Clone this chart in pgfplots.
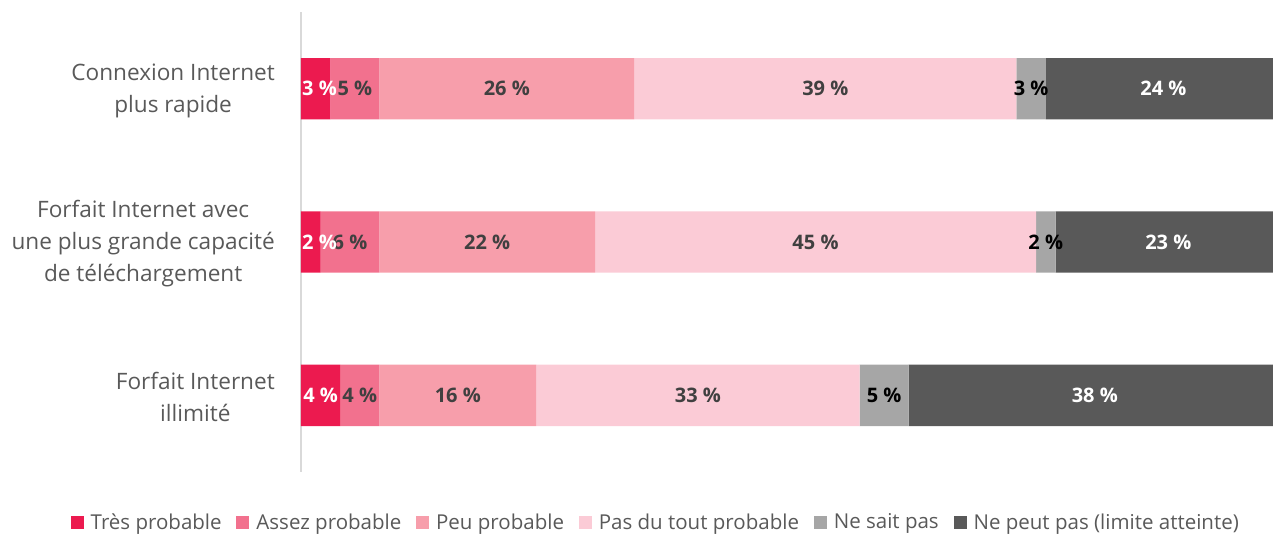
\documentclass[border=0pt]{standalone}
\usepackage{pgfplots}
\usepackage{pgfplotstable}
\pgfplotsset{compat=1.18}
\usepackage{fontspec}
\setmainfont{Open Sans}
\definecolor{c1}{HTML}{EC1A4F}
\definecolor{c2}{HTML}{F2718E}
\definecolor{c3}{HTML}{F79EAB}
\definecolor{c4}{HTML}{FBCBD6}
\definecolor{c5}{HTML}{A6A6A6}
\definecolor{c6}{HTML}{595959}
\definecolor{lbl}{HTML}{404040}
\definecolor{txt}{HTML}{595959}
% r = row (0 = Connexion Internet plus rapide, 1 = Forfait ... capacité, 2 = Forfait illimité)
\pgfplotstableread{
r v
0 3
1 2
2 4
}\tA
\pgfplotstableread{
r v
0 5
1 6
2 4
}\tB
\pgfplotstableread{
r v
0 26
1 22
2 16
}\tC
\pgfplotstableread{
r v
0 39
1 45
2 33
}\tD
\pgfplotstableread{
r v
0 3
1 2
2 5
}\tE
\pgfplotstableread{
r v
0 24
1 23
2 38
}\tF
\pgfplotsset{
  seglab/.style={
    visualization depends on={rawx \as \segval},
    nodes near coords={\pgfmathprintnumber[fixed,precision=0,assume math mode=true]{\segval}~\%},
    every node near coord/.append style={font=\fontsize{20}{22}\selectfont\bfseries, anchor=center, inner sep=0pt, text=#1},
  },
}
\begin{document}
\begin{tikzpicture}
\begin{axis}[
  name=ax,
  xbar stacked,
  scale only axis,
  width=980pt, height=460pt,
  xmin=0, xmax=100,
  ymin=-0.5, ymax=2.5,
  y dir=reverse,
  bar width=0.4,
  axis x line=none,
  axis y line=left,
  y axis line style={draw=black!15, line width=1.5pt, -},
  ytick={0,1,2},
  yticklabels={{Connexion Internet\\plus rapide},{Forfait Internet avec\\une plus grande capacité\\de téléchargement},{Forfait Internet\\illimité}},
  yticklabel style={align=center, font=\fontsize{22.6}{32}\selectfont, text=txt, inner sep=0pt, xshift=-26pt, yshift=-2pt},
  major tick length=0pt,
  point meta=x,
  legend style={at={(0.362,-0.109)}, anchor=center, draw=none, fill=none, legend columns=6,
    font=\fontsize{20.5}{24}\selectfont, text=txt, inner sep=0pt,
    /tikz/every odd column/.append style={column sep=5pt},
    /tikz/every even column/.append style={column sep=12.8pt}},
  legend image code/.code={\path[#1,draw=none] (0pt,-6.5pt) rectangle (13pt,6.5pt);},
]
\addplot[fill=c1, draw=none, seglab=white,
  every node near coord/.append style={xshift={max(0,18.5-4.9*\segval)*1pt}}] table[x=v, y=r] {\tA};
\addlegendentry{Très probable}
\addplot[fill=c2, draw=none, seglab=lbl] table[x=v, y=r] {\tB};
\addlegendentry{Assez probable}
\addplot[fill=c3, draw=none, seglab=lbl] table[x=v, y=r] {\tC};
\addlegendentry{Peu probable}
\addplot[fill=c4, draw=none, seglab=lbl] table[x=v, y=r] {\tD};
\addlegendentry{Pas du tout probable}
\addplot[fill=c5, draw=none, seglab=black] table[x=v, y=r] {\tE};
\addlegendentry{Ne sait pas}
\addplot[fill=c6, draw=none, seglab=white] table[x=v, y=r] {\tF};
\addlegendentry{Ne peut pas (limite atteinte)}
\end{axis}
\pgfresetboundingbox
\path ([xshift=-301pt,yshift=-61pt]ax.south west) rectangle ([xshift=972pt,yshift=472pt]ax.south west);
\end{tikzpicture}
\end{document}
